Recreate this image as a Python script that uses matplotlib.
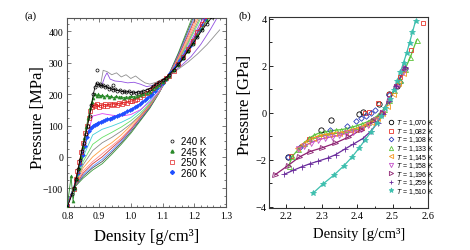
import matplotlib
matplotlib.use('Agg')
import matplotlib.pyplot as plt
from matplotlib.lines import Line2D
from matplotlib.ticker import MultipleLocator, FormatStrFormatter

plt.rcParams['mathtext.fontset'] = 'custom'
plt.rcParams['mathtext.it'] = 'Liberation Sans:italic'
plt.rcParams['mathtext.rm'] = 'Liberation Sans'

# ---------------- Panel (a) data ----------------
rho_a = [0.80, 0.82, 0.85, 0.88, 0.91, 0.94, 0.97, 1.00, 1.03, 1.06, 1.09, 1.12, 1.15, 1.18, 1.21, 1.24, 1.27]
p_mag    = [-156, -102, 20, 130, 138, 133, 130, 135, 150, 175, 210, 262, 302, 352, 408, 465, 520]
p_cyan   = [-155, -101, 0, 70, 88, 98, 110, 125, 148, 180, 218, 258, 300, 350, 408, 470, 530]
p_lgreen = [-154, -101, -15, 40, 62, 78, 95, 115, 140, 170, 210, 257, 305, 360, 420, 485, 550]
p_grey2  = [-153, -100, -25, 20, 45, 62, 82, 105, 133, 168, 208, 257, 308, 365, 428, 495, 560]
p_orange = [-152, -100, -35, 0, 25, 45, 70, 100, 130, 165, 208, 258, 312, 372, 438, 505, 570]
p_salmon = [-151, -100, -45, -15, 10, 35, 60, 92, 128, 165, 208, 259, 316, 380, 448, 515, 580]
p_red2   = [-150, -100, -52, -22, 0, 28, 55, 88, 125, 162, 208, 260, 320, 388, 458, 525, 590]
p_lblue  = [-150, -100, -58, -30, -8, 20, 50, 85, 122, 160, 207, 261, 324, 395, 468, 540, 600]
p_dgrey  = [-150, -100, -62, -35, -15, 14, 45, 80, 118, 158, 206, 262, 328, 402, 478, 550, 610]
p_green2 = [-150, -100, -68, -42, -22, 8, 40, 75, 115, 155, 205, 263, 332, 410, 488, 560, 620]

rho_grey1 = [0.905, 0.913, 0.925, 0.94, 0.955, 0.97, 0.985, 1.00, 1.015, 1.03, 1.045, 1.06, 1.08, 1.10, 1.12, 1.15, 1.18, 1.21, 1.24, 1.28]
p_grey1   = [230, 276, 272, 262, 268, 255, 262, 250, 258, 246, 236, 232, 238, 248, 260, 280, 302, 328, 358, 405]
rho_purple = [0.91, 0.918, 0.925, 0.935, 0.95, 0.97, 0.99, 1.01, 1.03, 1.05, 1.07, 1.09, 1.11, 1.13, 1.16, 1.19, 1.22, 1.25, 1.27]
p_purple   = [232, 255, 268, 248, 242, 240, 236, 238, 232, 224, 228, 238, 252, 268, 292, 320, 358, 405, 440]

rho_240 = [0.800, 0.815, 0.822, 0.828, 0.834, 0.840, 0.846, 0.852, 0.858, 0.864, 0.870, 0.876, 0.882, 0.887,
           0.892, 0.897, 0.902, 0.907, 0.912, 0.918, 0.924, 0.930, 0.937, 0.944, 0.951, 0.958, 0.965, 0.972,
           0.979, 0.986, 0.993, 1.000, 1.008, 1.016, 1.024, 1.032, 1.040, 1.050, 1.060, 1.070, 1.080, 1.090,
           1.100, 1.110, 1.120, 1.135, 1.150, 1.165, 1.180, 1.195, 1.210, 1.225, 1.240, 1.255]
p_240 = [-160, -120, -98, -70, -40, -10, 20, 45, 72, 100, 130, 165, 200, 222,
         236, 228, 232, 225, 230, 222, 226, 218, 220, 214, 216, 211, 213, 208,
         210, 206, 209, 205, 207, 204, 208, 206, 210, 214, 218, 225, 232, 238,
         245, 252, 262, 278, 295, 315, 338, 360, 382, 405, 425, 445]
rho_240_out = [0.895, 0.945]
p_240_out = [277, 229]

rho_245 = [0.800, 0.812, 0.818, 0.824, 0.830, 0.836, 0.842, 0.848, 0.854, 0.860, 0.866, 0.872, 0.877, 0.882,
           0.887, 0.892, 0.898, 0.904, 0.910, 0.917, 0.924, 0.931, 0.938, 0.946, 0.954, 0.962, 0.970, 0.978,
           0.986, 0.994, 1.002, 1.010, 1.020, 1.030, 1.040, 1.050, 1.060, 1.070, 1.080, 1.090, 1.100, 1.110,
           1.120, 1.135, 1.150, 1.165, 1.180, 1.195, 1.210, 1.225, 1.240, 1.255]
p_245 = [-158, -62, -140, -100, -70, -35, 0, 30, 60, 95, 125, 155, 175, 188,
         200, 194, 199, 193, 197, 192, 196, 190, 194, 189, 193, 190, 192, 189,
         191, 190, 193, 192, 195, 197, 200, 203, 208, 215, 222, 230, 238, 247,
         258, 276, 294, 315, 338, 362, 388, 412, 435, 455]

rho_250 = [0.800, 0.820, 0.826, 0.832, 0.838, 0.844, 0.850, 0.856, 0.862, 0.868, 0.873, 0.878, 0.883, 0.888,
           0.894, 0.900, 0.906, 0.912, 0.919, 0.926, 0.933, 0.940, 0.948, 0.956, 0.964, 0.972, 0.980, 0.988,
           0.996, 1.004, 1.012, 1.020, 1.030, 1.040, 1.050, 1.060, 1.070, 1.080, 1.090, 1.100, 1.110, 1.120,
           1.135, 1.150, 1.165, 1.180, 1.195, 1.210, 1.225, 1.240]
p_250 = [-157, -102, -72, -45, -15, 15, 45, 75, 100, 125, 145, 158, 165, 162,
         168, 160, 166, 162, 168, 163, 169, 165, 170, 166, 172, 169, 175, 172,
         178, 178, 182, 185, 192, 198, 205, 212, 220, 228, 236, 243, 250, 258,
         275, 295, 318, 343, 370, 398, 425, 450]

rho_260 = [0.800, 0.820, 0.827, 0.834, 0.841, 0.848, 0.855, 0.862, 0.868, 0.874, 0.880, 0.886, 0.892, 0.898,
           0.905, 0.912, 0.919, 0.926, 0.933, 0.940, 0.948, 0.956, 0.964, 0.972, 0.980, 0.988, 0.996, 1.004,
           1.012, 1.020, 1.028, 1.036, 1.044, 1.052, 1.060, 1.068, 1.076, 1.084, 1.092, 1.100, 1.108, 1.116,
           1.125, 1.135, 1.145, 1.155, 1.165, 1.175, 1.185, 1.195, 1.205, 1.215, 1.225, 1.235]
p_260 = [-155, -101, -75, -50, -22, 5, 35, 62, 82, 92, 98, 103, 106, 109,
         112, 114, 117, 120, 122, 125, 128, 131, 134, 137, 141, 145, 149, 153,
         158, 163, 168, 174, 180, 187, 194, 202, 210, 219, 228, 237, 246, 256,
         268, 281, 295, 309, 323, 338, 353, 369, 386, 404, 422, 440]

labels_a = ['240 K', '245 K', '250 K', '260 K']

# ---------------- Panel (b) data ----------------
rho_1070 = [2.207, 2.298, 2.328, 2.405, 2.418, 2.462, 2.489, 2.512]
p_1070 = [-1.87, -0.74, -0.32, -0.05, 0.02, 0.38, 0.78, 1.15]
rho_1082 = [2.215, 2.266, 2.423, 2.435, 2.458, 2.49, 2.522, 2.553, 2.585]
p_1082 = [-1.85, -1.12, 0.0, 0.05, 0.40, 0.80, 1.5, 2.65, 3.81]
rho_1108 = [2.205, 2.24, 2.323, 2.372, 2.398, 2.41, 2.424, 2.438, 2.452, 2.49, 2.52, 2.535]
p_1108 = [-1.88, -1.45, -0.73, -0.55, -0.35, -0.22, -0.12, -0.03, 0.1, 0.75, 1.3, 1.85]
rho_1133 = [2.208, 2.218, 2.235, 2.25, 2.265, 2.28, 2.295, 2.31, 2.325, 2.34, 2.355, 2.37, 2.385, 2.40,
            2.415, 2.43, 2.445, 2.46, 2.475, 2.49, 2.505, 2.52, 2.535, 2.55, 2.568]
p_1133 = [-2.25, -1.85, -1.55, -1.3, -1.08, -0.95, -0.85, -0.82, -0.78, -0.74, -0.72, -0.68, -0.62, -0.55,
          -0.47, -0.38, -0.25, -0.1, 0.15, 0.55, 0.95, 1.4, 1.85, 2.35, 3.1]
rho_1145 = [2.232, 2.245, 2.26, 2.275, 2.29, 2.305, 2.32, 2.335, 2.35, 2.365, 2.38, 2.395, 2.41, 2.425,
            2.44, 2.455, 2.47, 2.485, 2.50, 2.515, 2.53]
p_1145 = [-1.5, -1.35, -1.2, -1.08, -1.0, -0.95, -0.9, -0.88, -0.85, -0.8, -0.74, -0.68, -0.6, -0.5,
          -0.38, -0.22, -0.02, 0.3, 0.8, 1.25, 1.7]
rho_1158 = [2.235, 2.25, 2.27, 2.29, 2.31, 2.33, 2.35, 2.37, 2.39, 2.41, 2.43, 2.45, 2.47, 2.49, 2.51, 2.53]
p_1158 = [-1.55, -1.42, -1.28, -1.15, -1.08, -1.02, -0.96, -0.88, -0.8, -0.68, -0.52, -0.3, 0.0, 0.55, 1.1, 1.75]
rho_1196 = [2.168, 2.205, 2.238, 2.267, 2.30, 2.337, 2.374, 2.412, 2.445, 2.47, 2.49, 2.51, 2.535]
p_1196 = [-2.65, -2.25, -1.88, -1.65, -1.5, -1.3, -1.05, -0.72, -0.35, 0.0, 0.5, 1.1, 1.9]
rho_1259 = [2.195, 2.22, 2.244, 2.267, 2.29, 2.317, 2.34, 2.365, 2.39, 2.416, 2.44, 2.458, 2.472, 2.49, 2.51, 2.535]
p_1259 = [-2.62, -2.45, -2.3, -2.17, -2.06, -1.93, -1.78, -1.55, -1.33, -1.1, -0.77, -0.42, -0.05, 0.5, 1.12, 1.95]
rho_1510 = [2.276, 2.305, 2.335, 2.362, 2.385, 2.405, 2.423, 2.440, 2.455, 2.468, 2.480, 2.492, 2.503,
            2.513, 2.522, 2.531, 2.540, 2.548, 2.556, 2.565]
p_1510 = [-3.42, -3.02, -2.65, -2.27, -1.9, -1.52, -1.15, -0.8, -0.45, -0.12, 0.22, 0.58, 0.95,
          1.33, 1.72, 2.13, 2.55, 2.98, 3.42, 3.9]
temps_b = ['1,070', '1,082', '1,108', '1,133', '1,145', '1,158', '1,196', '1,259', '1,510']

# ---------------- Figure ----------------
SERIF = 'Liberation Serif'
SANS = ['Liberation Sans Narrow', 'Liberation Sans', 'DejaVu Sans']

fig = plt.figure(figsize=(4.7, 2.51), dpi=100)
axa = fig.add_axes([0.1432, 0.1713, 0.3377, 0.7518])
axb = fig.add_axes([0.573, 0.1673, 0.3377, 0.762])

# Panel (a)
lw = 0.6
thin = [(p_green2, '#3a9a3a'), (p_dgrey, '#505050'), (p_lblue, '#5a8cff'), (p_red2, '#d03a3a'),
        (p_salmon, '#ff8a8a'), (p_orange, '#ffa040'), (p_grey2, '#8a8a8a'), (p_lgreen, '#66e066'),
        (p_cyan, '#40d0d8'), (p_mag, '#e040f0')]
for vals, c in thin:
    axa.plot(rho_a, vals, color=c, lw=lw, zorder=1)
axa.plot(rho_grey1, p_grey1, color='#909090', lw=lw, zorder=1)
axa.plot(rho_purple, p_purple, color='#9050e0', lw=lw, zorder=1)

axa.plot(rho_260, p_260, color='#1f4fff', lw=1.0, marker='D', ms=2.0, mfc='#1f4fff', mec='#1f4fff', mew=0.4, zorder=3)
axa.plot(rho_250, p_250, color='#e02020', lw=0.6, marker='s', ms=2.2, mfc='none', mec='#e02020', mew=0.5, zorder=3)
axa.plot(rho_245, p_245, color='#2a8a2a', lw=0.6, marker='^', ms=2.2, mfc='#2a8a2a', mec='#2a8a2a', mew=0.4, zorder=3)
axa.plot(rho_240, p_240, color='black', lw=0.6, marker='o', ms=2.2, mfc='none', mec='black', mew=0.5, zorder=3)
axa.plot(rho_240_out, p_240_out, ls='none', marker='o', ms=2.2, mfc='none', mec='black', mew=0.5, zorder=3)

axa.set_xlim(0.8, 1.3)
axa.set_ylim(-160, 442)
axa.xaxis.set_major_locator(MultipleLocator(0.1))
axa.xaxis.set_minor_locator(MultipleLocator(0.02))
axa.xaxis.set_major_formatter(FormatStrFormatter('%.1f'))
axa.yaxis.set_major_locator(MultipleLocator(100))
axa.yaxis.set_minor_locator(MultipleLocator(25))
axa.tick_params(which='both', direction='in', top=True, right=True, width=0.5, colors='#444444',
                labelcolor='black', labelsize=7)
axa.tick_params(which='major', length=3, pad=3)
axa.tick_params(which='minor', length=1.6)
for lab in axa.get_xticklabels() + axa.get_yticklabels():
    lab.set_fontfamily(SERIF)
for s in axa.spines.values():
    s.set_color('#555555')
    s.set_linewidth(0.8)
axa.set_xlabel('Density [g/cm³]', fontsize=12, family=SERIF)
axa.set_ylabel('Pressure [MPa]', fontsize=12, family=SERIF)
axa.xaxis.set_label_coords(0.5, -0.11)
axa.yaxis.set_label_coords(-0.135, 0.48)

h_a = [Line2D([], [], ls='none', marker='o', ms=2.2, mfc='none', mec='black', mew=0.5),
       Line2D([], [], ls='none', marker='^', ms=2.2, mfc='#2a8a2a', mec='#2a8a2a'),
       Line2D([], [], ls='none', marker='s', ms=2.2, mfc='none', mec='#e02020', mew=0.5),
       Line2D([], [], ls='none', marker='D', ms=2.0, mfc='#1f4fff', mec='#1f4fff')]
axa.legend(h_a, labels_a, loc='upper left', bbox_to_anchor=(0.635, 0.376), frameon=False,
           handlelength=0.8, handletextpad=0.5, labelspacing=0.05, borderpad=0, borderaxespad=0,
           prop={'family': SANS, 'size': 7})

# Panel (b)
specs = [
    (rho_1070, p_1070, 'o', 'black', False, True),
    (rho_1082, p_1082, 's', '#e8372c', False, True),
    (rho_1108, p_1108, 'D', '#2b3bb8', False, True),
    (rho_1133, p_1133, '^', '#5cc23a', True, True),
    (rho_1145, p_1145, '<', '#f5961c', True, True),
    (rho_1158, p_1158, 'v', '#c44fc8', True, True),
    (rho_1196, p_1196, '>', '#8c1f70', True, True),
    (rho_1259, p_1259, '+', '#6a2c9c', True, False),
    (rho_1510, p_1510, '*', '#3dbfae', True, False),
]
sizes = {'o': 3.8, 's': 3.4, 'D': 2.8, '^': 3.6, '<': 3.6, 'v': 3.6, '>': 3.6, '+': 4.2, '*': 4.2}
handles_b = []
for x, y, m, c, line, hollow in specs:
    if line:
        axb.plot(x, y, color=c, lw=0.9, zorder=2)
    mfc = 'none' if hollow else c
    axb.plot(x, y, ls='none', marker=m, ms=sizes[m], mfc=mfc, mec=c, mew=0.6, zorder=3)
    handles_b.append(Line2D([], [], ls='none', marker=m, ms=sizes[m] * 0.85, mfc=mfc, mec=c, mew=0.6))
labels_b = [r'$T$ = ' + t + ' K' for t in temps_b]
axb.legend(handles_b, labels_b, loc='upper left', bbox_to_anchor=(0.743, 0.473), frameon=False,
           handlelength=1.0, handletextpad=0.2, labelspacing=-0.2, borderpad=0, borderaxespad=0,
           prop={'family': SANS, 'size': 5})

axb.set_xlim(2.153, 2.6)
axb.set_ylim(-4.05, 4.08)
axb.xaxis.set_major_locator(MultipleLocator(0.1))
axb.xaxis.set_minor_locator(MultipleLocator(0.05))
axb.xaxis.set_major_formatter(FormatStrFormatter('%.1f'))
axb.yaxis.set_major_locator(MultipleLocator(2))
axb.yaxis.set_minor_locator(MultipleLocator(1))
axb.tick_params(which='both', direction='in', width=0.6, labelsize=7.5)
axb.tick_params(which='major', length=3, pad=2)
axb.tick_params(which='minor', length=1.8)
for lab in axb.get_xticklabels() + axb.get_yticklabels():
    lab.set_fontfamily(SERIF)
for s in axb.spines.values():
    s.set_color('#333333')
    s.set_linewidth(0.8)
axb.set_xlabel('Density [g/cm³]', fontsize=10.5, family=SERIF)
axb.set_ylabel('Pressure [GPa]', fontsize=12, family=SERIF)
axb.xaxis.set_label_coords(0.565, -0.1)
axb.yaxis.set_label_coords(-0.1, 0.546)

fig.text(31 / 470, 1 - 16 / 251, '(a)', family=SERIF, fontsize=8, ha='center', va='center')
fig.text(245 / 470, 1 - 16 / 251, '(b)', family=SERIF, fontsize=8, ha='center', va='center')

fig.savefig('out.png', dpi=100)
